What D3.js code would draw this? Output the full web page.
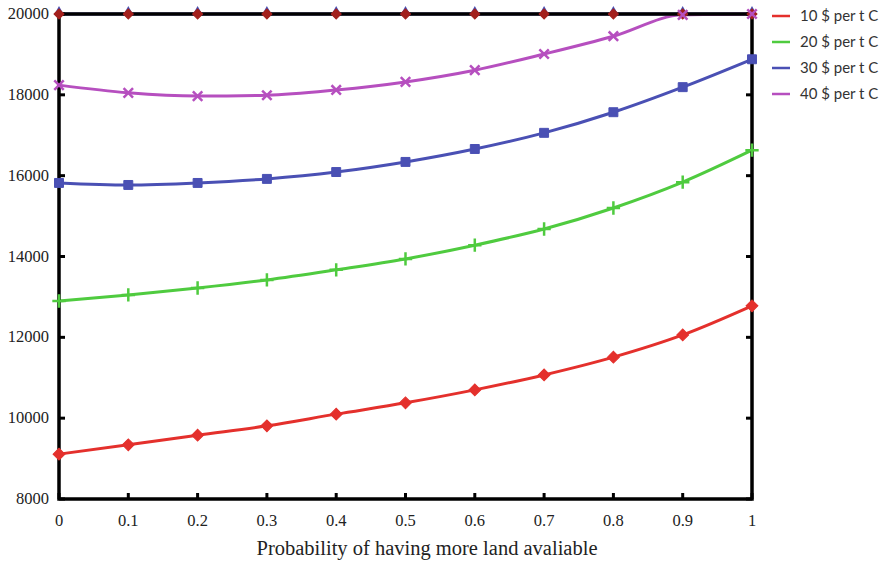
<!doctype html>
<html>
  <head>
    <script src="https://cdn.jsdelivr.net/npm/d3@7/dist/d3.min.js"></script>
    <style>
    body { margin: 0; background: #fff; }
    .tick-label { font-family: "Liberation Serif", serif; font-size: 16.5px; fill: #222; }
    .legend-label { font-family: Lato, "Open Sans", sans-serif; font-size: 15px; fill: #333; }
    </style>
  </head>
  <body>
    <svg id="chart" width="896" height="562"></svg>
    <script>
      // values
      var probs = [0, 0.1, 0.2, 0.3, 0.4, 0.5, 0.6, 0.7, 0.8, 0.9, 1];
      var price10 = [9110, 9340, 9580, 9810, 10100, 10380, 10700, 11070, 11510, 12060, 12780];
      var price20 = [12900, 13050, 13220, 13420, 13670, 13940, 14280, 14680, 15200, 15840, 16630];
      var price30 = [15820, 15770, 15820, 15920, 16090, 16340, 16660, 17060, 17570, 18190, 18880];
      var price40 = [18240, 18050, 17970, 17990, 18120, 18320, 18610, 19010, 19450, 19980, 20000];
      var capped = [20000, 20000, 20000, 20000, 20000, 20000, 20000, 20000, 20000, 20000, 20000];
      var seriesNames = ["10 $ per t C", "20 $ per t C", "30 $ per t C", "40 $ per t C"];
      var yTicks = [8000, 10000, 12000, 14000, 16000, 18000, 20000];

      var colors = ["#e4302c", "#4fcb3f", "#4a50b4", "#b64fbf"];
      var series = [price10, price20, price30, price40];

      var svg = d3.select("#chart");
      var x = d3.scaleLinear().domain([0, 1]).range([59, 752]);
      var y = d3.scaleLinear().domain([8000, 20000]).range([499, 14]);

      var line = d3.line()
        .x((d, i) => x(probs[i]))
        .y(d => y(d))
        .curve(d3.curveMonotoneX);

      // capped series along the top edge
      svg.append("path")
        .attr("d", line(capped))
        .attr("fill", "none")
        .attr("stroke", colors[2])
        .attr("stroke-width", 3);

      series.forEach((s, k) => {
        svg.append("path")
          .attr("d", line(s))
          .attr("fill", "none")
          .attr("stroke", colors[k])
          .attr("stroke-width", 3);
      });

      // frame
      svg.append("rect")
        .attr("x", x(0)).attr("y", y(20000))
        .attr("width", x(1) - x(0)).attr("height", y(8000) - y(20000))
        .attr("fill", "none")
        .attr("stroke", "#000")
        .attr("stroke-width", 3.5);

      // inward ticks
      yTicks.forEach(v => {
        svg.append("line")
          .attr("x1", x(0)).attr("x2", x(0) + 6)
          .attr("y1", y(v)).attr("y2", y(v))
          .attr("stroke", "#000").attr("stroke-width", 3);
        svg.append("line")
          .attr("x1", x(1)).attr("x2", x(1) - 6)
          .attr("y1", y(v)).attr("y2", y(v))
          .attr("stroke", "#000").attr("stroke-width", 3);
      });
      probs.forEach(p => {
        svg.append("line")
          .attr("x1", x(p)).attr("x2", x(p))
          .attr("y1", y(8000)).attr("y2", y(8000) - 6)
          .attr("stroke", "#000").attr("stroke-width", 3);
      });

      // markers (the diamond is a square turned 45 degrees)
      var symbols = [
        { type: d3.symbolSquare, size: 70, fill: true, rotate: 45 },
        { type: d3.symbolPlus, size: 60, fill: false, rotate: 0 },
        { type: d3.symbolSquare, size: 80, fill: true, rotate: 0 },
        { type: d3.symbolTimes, size: 60, fill: false, rotate: 0 }
      ];

      function drawMarkers(values, k, color, size) {
        var sym = symbols[k];
        color = color || colors[k];
        svg.append("g").selectAll("path")
          .data(values)
          .enter()
          .append("path")
            .attr("transform", (d, i) => `translate(${x(probs[i])},${y(d)}) rotate(${sym.rotate})`)
            .attr("d", d3.symbol().type(sym.type).size(size || sym.size))
            .attr("fill", sym.fill ? color : "none")
            .attr("stroke", color)
            .attr("stroke-width", sym.fill ? 1 : 2.5);
      }

      // markers at the capped top edge
      svg.append("g").selectAll("path")
        .data(capped)
        .enter()
        .append("path")
          .attr("transform", (d, i) => `translate(${x(probs[i])},${y(d) - 2})`)
          .attr("d", d3.symbol().type(d3.symbolTriangle).size(45))
          .attr("fill", colors[2]);
      drawMarkers(capped, 0, "#a3201c", 50);
      series.forEach((s, k) => drawMarkers(s, k));

      // tick labels
      svg.append("g").selectAll("text")
        .data(yTicks)
        .enter()
        .append("text")
          .attr("class", "tick-label")
          .attr("x", 49)
          .attr("y", d => y(d) + 5)
          .attr("text-anchor", "end")
          .text(d => d);

      svg.append("g").selectAll("text")
        .data(probs)
        .enter()
        .append("text")
          .attr("class", "tick-label")
          .attr("x", d => x(d))
          .attr("y", 526)
          .attr("text-anchor", "middle")
          .text(d => d3.format("")(d));

      svg.append("text")
        .attr("class", "tick-label")
        .style("font-size", "20.5px")
        .attr("x", 427)
        .attr("y", 555)
        .attr("text-anchor", "middle")
        .text("Probability of having more land avaliable");

      // legend
      var legend = svg.append("g").selectAll("g")
        .data(seriesNames)
        .enter()
        .append("g")
          .attr("transform", (d, i) => `translate(772,${16 + i * 26})`);
      legend.append("line")
        .attr("x1", 0).attr("x2", 18)
        .attr("stroke", (d, i) => colors[i])
        .attr("stroke-width", 2.5);
      legend.append("text")
        .attr("class", "legend-label")
        .attr("x", 28)
        .attr("y", 5)
        .text(d => d);
    </script>
  </body>
</html>
